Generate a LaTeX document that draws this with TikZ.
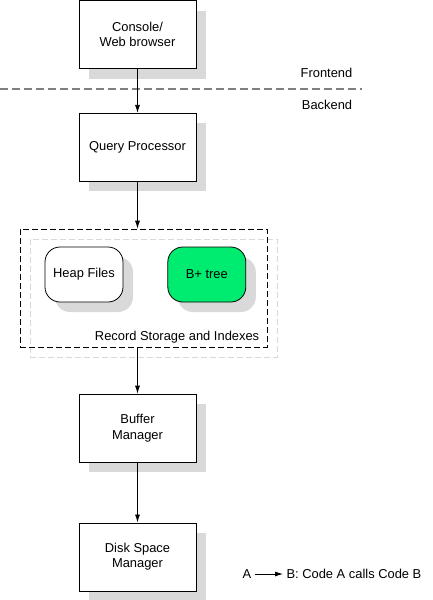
\documentclass[tikz,border=0pt]{standalone}
\usepackage{fontspec}
\setmainfont{Liberation Sans}
\usetikzlibrary{arrows.meta,positioning,shadows}
\definecolor{treegreen}{RGB}{0,236,112}

\begin{document}
\begin{tikzpicture}[x=1pt,y=1pt,node distance=44pt,>={Latex[length=8pt,width=5pt]},
  every node/.append style={align=center,font=\fontsize{12.9}{15.5}\selectfont},
  box/.style={draw, fill=white, line width=0.8pt, minimum width=117pt, minimum height=68pt,
    drop shadow={shadow xshift=10pt, shadow yshift=-10pt, fill=black!15, opacity=1}},
  rbox/.style={draw, line width=0.8pt, rounded corners=15pt, minimum width=78pt, minimum height=55pt,
    drop shadow={shadow xshift=10pt, shadow yshift=-10pt, fill=black!15, opacity=1}},
  store/.style={draw, dash pattern=on 6pt off 3pt, line width=0.8pt, minimum width=247pt, minimum height=118pt,
    drop shadow={shadow xshift=10pt, shadow yshift=-10pt, fill=none, draw=black!15, line width=1pt, dash pattern=on 6pt off 3pt, opacity=1}},
  split/.style={draw=black!50, line width=1.3pt, dash pattern=on 8pt off 4pt}]
    \useasboundingbox (0,0) rectangle (432,-600);
    \node [box] (C) at (137.5,-34.5) {Console/\\Web browser};
    \coordinate (FL) at (0,-89);
    \coordinate (FR) at (362,-89);
    \draw [split] (FL) -- (FR);
    \node (FE) at (326.5,-73) {Frontend};
    \node (BE) at (327,-105) {Backend};
    \node [box, below=of C] (QP) {Query Processor};
    \node [store, below=47pt of QP, xshift=6pt] (RS) {};
    \node [rbox, fill=white] (HF) at (84,-274.5) {Heap Files};
    \node [rbox, fill=treegreen, right=of HF] (BT) {B+ tree};
    \node [inner sep=0pt, above left=4pt and 8pt of RS.south east, anchor=south east] (RSL) {Record Storage and Indexes};
    \node [box, below=212pt of QP] (BM) {Buffer\\Manager};
    \node [box, below=60pt of BM] (DM) {Disk Space\\Manager};
    \path[->, line width=0.8pt] (C) edge (QP);
    \path[->, line width=0.8pt] (QP) edge (QP |- RS.north);
    \path[->, line width=0.8pt] (RS.south -| BM) edge (BM);
    \path[->, line width=0.8pt] (BM) edge (DM);
    % legend
    \node (A) at (247,-574) {A};
    \node [anchor=west] (B) at (283,-574) {B: Code A calls Code B};
    \path[->, line width=0.8pt] (A) edge (B);
\end{tikzpicture}
\end{document}
